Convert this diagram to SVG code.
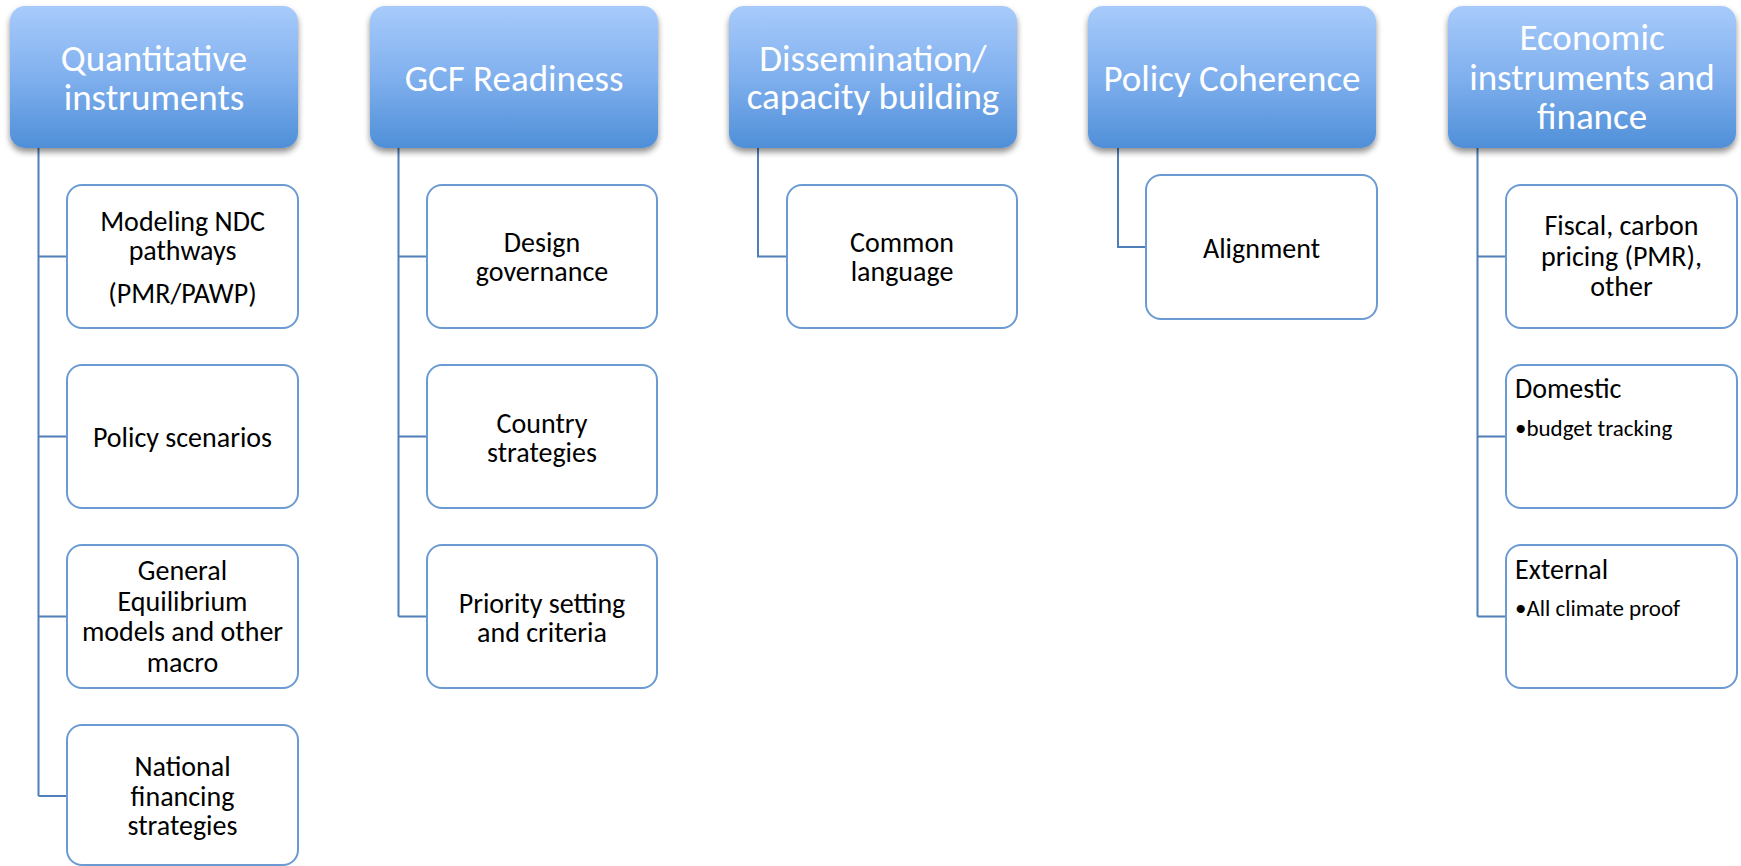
<svg xmlns="http://www.w3.org/2000/svg" width="1741" height="866" viewBox="0 0 1741 866">
<defs>
<linearGradient id="hg" x1="0" y1="0" x2="0" y2="1">
<stop offset="0" stop-color="#a8cbfb"/>
<stop offset="0.5" stop-color="#80b0ee"/>
<stop offset="1" stop-color="#4f8fd8"/>
</linearGradient>
<filter id="sh" x="-10%" y="-10%" width="120%" height="130%">
<feGaussianBlur in="SourceAlpha" stdDeviation="3"/>
<feOffset dx="0" dy="4" result="b"/>
<feComponentTransfer><feFuncA type="linear" slope="0.45"/></feComponentTransfer>
<feMerge><feMergeNode/><feMergeNode in="SourceGraphic"/></feMerge>
</filter>
</defs>
<style>
.hd{fill:url(#hg);filter:url(#sh)}
.ht{font-family:Carlito,Calibri,Lato,sans-serif;font-size:37px;fill:#ffffff;text-anchor:middle}
.cb{fill:#ffffff;stroke:#6b9bd2;stroke-width:2}
.ct{font-family:Carlito,Calibri,Lato,sans-serif;font-size:28px;fill:#000000;text-anchor:middle}
.cl{font-family:Carlito,Calibri,Lato,sans-serif;font-size:28px;fill:#000000}
.bl{font-size:23px}
.cn{fill:none;stroke:#4f7fb8;stroke-width:2}
</style>
<rect width="1741" height="866" fill="#ffffff"/>
<g id="connectors">
<path class="cn" d="M38.5 148 V796 M38.5 256.5 H67 M38.5 436.5 H67 M38.5 616.5 H67 M38.5 796 H67"/>
<path class="cn" d="M398.5 148 V616.5 M398.5 256.5 H427 M398.5 436.5 H427 M398.5 616.5 H427"/>
<path class="cn" d="M758 148 V256.5 H787"/>
<path class="cn" d="M1118 148 V247 H1146"/>
<path class="cn" d="M1477.5 148 V616.5 M1477.5 256.5 H1506 M1477.5 436.5 H1506 M1477.5 616.5 H1506"/>
</g>
<g id="h1"><rect class="hd" x="10" y="6" width="288" height="142" rx="15"/><text class="ht" x="154" y="71">Quantitative<tspan x="154" dy="39">instruments</tspan></text></g>
<g id="h2"><rect class="hd" x="370" y="6" width="288" height="142" rx="15"/><text class="ht" x="514" y="91">GCF Readiness</text></g>
<g id="h3"><rect class="hd" x="729" y="6" width="288" height="142" rx="15"/><text class="ht" x="873" y="71">Dissemination/<tspan x="873" dy="38">capacity building</tspan></text></g>
<g id="h4"><rect class="hd" x="1088" y="6" width="288" height="142" rx="15"/><text class="ht" x="1232" y="91">Policy Coherence</text></g>
<g id="h5"><rect class="hd" x="1448" y="6" width="288" height="142" rx="15"/><text class="ht" x="1592" y="50">Economic<tspan x="1592" dy="39.5">instruments and</tspan><tspan x="1592" dy="39.5">finance</tspan></text></g>

<g id="c1a"><rect class="cb" x="67" y="185" width="231" height="143" rx="15"/><text class="ct" x="182.5" y="231">Modeling NDC<tspan x="182.5" dy="29">pathways</tspan><tspan x="182.5" dy="43">(PMR/PAWP)</tspan></text></g>
<g id="c1b"><rect class="cb" x="67" y="365" width="231" height="143" rx="15"/><text class="ct" x="182.5" y="447">Policy scenarios</text></g>
<g id="c1c"><rect class="cb" x="67" y="545" width="231" height="143" rx="15"/><text class="ct" x="182.5" y="580">General<tspan x="182.5" dy="30.7">Equilibrium</tspan><tspan x="182.5" dy="30.7">models and other</tspan><tspan x="182.5" dy="30.7">macro</tspan></text></g>
<g id="c1d"><rect class="cb" x="67" y="725" width="231" height="140" rx="15"/><text class="ct" x="182.5" y="776">National<tspan x="182.5" dy="29.5">financing</tspan><tspan x="182.5" dy="29.5">strategies</tspan></text></g>

<g id="c2a"><rect class="cb" x="427" y="185" width="230" height="143" rx="15"/><text class="ct" x="542" y="252">Design<tspan x="542" dy="29">governance</tspan></text></g>
<g id="c2b"><rect class="cb" x="427" y="365" width="230" height="143" rx="15"/><text class="ct" x="542" y="433">Country<tspan x="542" dy="29">strategies</tspan></text></g>
<g id="c2c"><rect class="cb" x="427" y="545" width="230" height="143" rx="15"/><text class="ct" x="542" y="613">Priority setting<tspan x="542" dy="29">and criteria</tspan></text></g>

<g id="c3a"><rect class="cb" x="787" y="185" width="230" height="143" rx="15"/><text class="ct" x="902" y="252">Common<tspan x="902" dy="29">language</tspan></text></g>

<g id="c4a"><rect class="cb" x="1146" y="175" width="231" height="144" rx="15"/><text class="ct" x="1261.5" y="258">Alignment</text></g>

<g id="c5a"><rect class="cb" x="1506" y="185" width="231" height="143" rx="15"/><text class="ct" x="1621.5" y="235">Fiscal, carbon<tspan x="1621.5" dy="30.5">pricing (PMR),</tspan><tspan x="1621.5" dy="30.5">other</tspan></text></g>
<g id="c5b"><rect class="cb" x="1506" y="365" width="231" height="143" rx="15"/><text class="cl" x="1515" y="398">Domestic<tspan class="bl" x="1515" dy="38">•budget tracking</tspan></text></g>
<g id="c5c"><rect class="cb" x="1506" y="545" width="231" height="143" rx="15"/><text class="cl" x="1515" y="579">External<tspan class="bl" x="1515" dy="37">•All climate proof</tspan></text></g>
</svg>
